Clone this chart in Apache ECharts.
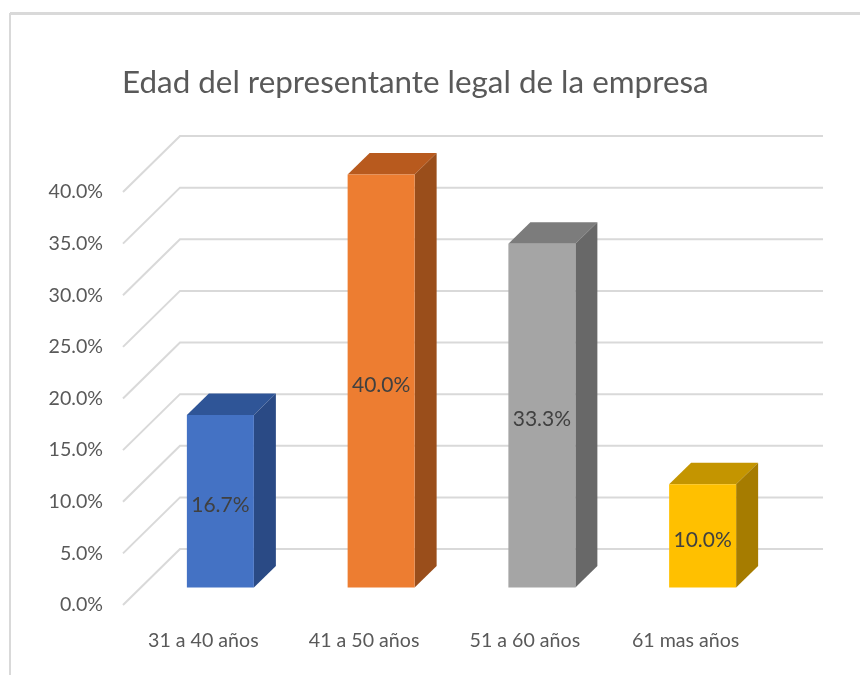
<!DOCTYPE html>
<html><head><meta charset="utf-8">
<style>html,body{margin:0;padding:0;background:#fff}#c{width:860px;height:675px}</style>
<script src="https://cdn.jsdelivr.net/npm/echarts@6/dist/echarts.min.js"></script>
</head><body><div id="c"></div>
<script>
const categories = ['31 a 40 años','41 a 50 años','51 a 60 años','61 mas años'];
const values = [16.7,40.0,33.3,10.0];
const yTicks = [0,5,10,15,20,25,30,35,40];
const faceColors = ['#4472C4','#ED7D31','#A5A5A5','#FFC000'];
const topColors = ['#2F5597','#B85A1E','#7C7C7C','#C49500'];
const sideColors = ['#2A4A85','#9A4E1B','#686868','#A67C00'];
const BACK_DX=57, BACK_DY=56, BAR_DX=22, BAR_DY=21.5, BAR_LIFT_X=17, BAR_LIFT_Y=17.5, BAR_W=67, LABEL_DY=4;
const chart = echarts.init(document.getElementById('c'),null,{renderer:'canvas'});
const font = 'Lato';
chart.setOption({
  animation:false,
  backgroundColor:'#fff',
  title:{text:'Edad del representante legal de la empresa',left:117,top:62,
    textStyle:{fontFamily:font,fontSize:31.4,fontWeight:'normal',color:'#595959'}},
  grid:{left:123,right:94,top:192,bottom:70},
  xAxis:{type:'category',data:categories,axisLine:{show:false},axisTick:{show:false},
    axisLabel:{color:'#595959',fontFamily:font,fontSize:19.6,margin:26}},
  yAxis:{type:'value',min:0,max:40,interval:5,splitLine:{show:false},axisLine:{show:false},axisTick:{show:false},
    axisLabel:{color:'#595959',fontFamily:font,fontSize:19.6,margin:20,formatter:v=>v.toFixed(1)+'%'}},
  graphic:[
    {type:'line',shape:{x1:10,y1:13.5,x2:860,y2:13.5},style:{stroke:'#D9D9D9',lineWidth:3},silent:true},
    {type:'line',shape:{x1:10,y1:13,x2:10,y2:675},style:{stroke:'#D9D9D9',lineWidth:2},silent:true}
  ],
  series:[
    {type:'custom',clip:false,z:1,silent:true,encode:{y:0},data:yTicks.map(v=>[v]),
     renderItem(params,api){
       const cs=params.coordSys, y=api.coord([0,api.value(0)])[1];
       return {type:'polyline',shape:{points:[[cs.x,y],[cs.x+BACK_DX,y-BACK_DY],[cs.x+cs.width+BACK_DX,y-BACK_DY]]},
         style:{stroke:'#D9D9D9',lineWidth:2,fill:null}};
     }},
    {type:'custom',clip:false,z:2,silent:true,encode:{x:0,y:1},
     data:values.map((v,i)=>[i,v]),
     renderItem(params,api){
       const i=api.value(0), c=api.coord([i,api.value(1)]), b=api.coord([i,0]);
       const x0=c[0]-BAR_W/2+BAR_LIFT_X, x1=x0+BAR_W, yT=c[1]-BAR_LIFT_Y, yB=b[1]-BAR_LIFT_Y;
       return {type:'group',children:[
         {type:'polygon',shape:{points:[[x0,yT],[x1,yT],[x1+BAR_DX,yT-BAR_DY],[x0+BAR_DX,yT-BAR_DY]]},style:{fill:topColors[i]}},
         {type:'polygon',shape:{points:[[x1,yT],[x1+BAR_DX,yT-BAR_DY],[x1+BAR_DX,yB-BAR_DY],[x1,yB]]},style:{fill:sideColors[i]}},
         {type:'rect',shape:{x:x0,y:yT,width:BAR_W,height:yB-yT},style:{fill:faceColors[i]}},
         {type:'text',x:(x0+x1)/2,y:(yT+yB)/2+LABEL_DY,style:{text:api.value(1).toFixed(1)+'%',align:'center',verticalAlign:'middle',
           fill:'#404040',fontFamily:font,fontSize:21}}
       ]};
     }}
  ]
});
</script></body></html>
